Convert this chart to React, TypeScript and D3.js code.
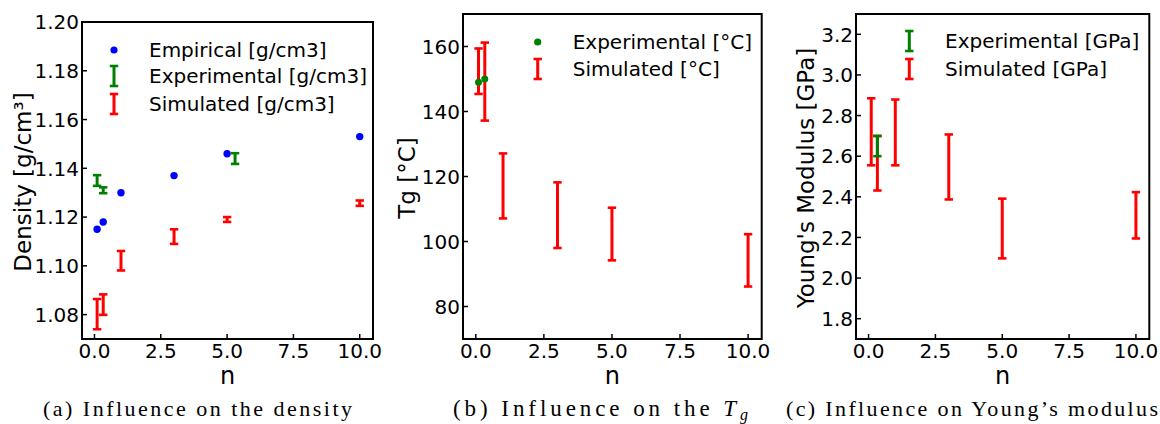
import React from 'react';
import * as d3 from 'd3';

// ---------- data ----------
const nValues = [0.1, 0.33, 1, 3, 5, 10];
const xTicks = [0, 2.5, 5, 7.5, 10];

const densityEmpirical = [1.115, 1.118, 1.13, 1.137, 1.146, 1.153];
const densityExpN = [0.1, 0.33, 5.3];
const densityExp = [1.135, 1.131, 1.144];
const densityExpErr = [0.0022, 0.0012, 0.0022];
const densitySim = [1.0802, 1.0841, 1.1021, 1.112, 1.119, 1.1257];
const densitySimErr = [0.0062, 0.0042, 0.004, 0.003, 0.001, 0.0011];
const densityTicks = [1.08, 1.1, 1.12, 1.14, 1.16, 1.18, 1.2];

const tgExpN = [0.1, 0.33];
const tgExp = [149, 150];
const tgSim = [152.4, 149.2, 117.1, 108.1, 102.3, 94.2];
const tgSimErr = [7, 12, 10, 10.1, 8.1, 8.05];
const tgTicks = [80, 100, 120, 140, 160];

const ymExpN = [0.33];
const ymExp = [2.65];
const ymExpErr = [0.05];
const ymSim = [2.72, 2.565, 2.717, 2.547, 2.244, 2.309];
const ymSimErr = [0.165, 0.134, 0.162, 0.16, 0.147, 0.114];
const ymTicks = [1.8, 2.0, 2.2, 2.4, 2.6, 2.8, 3.0, 3.2];

const BLUE = '#0000ff';
const GREEN = '#008000';
const RED = '#ff0000';
const FONT = '"DejaVu Sans", sans-serif';
const SERIF = '"Liberation Serif", "DejaVu Serif", serif';

type Err = { n: number[]; v: number[]; e: number[]; color: string };
type Dots = { n: number[]; v: number[]; color: string; r: number };
type LegendItem = { kind: 'dot' | 'err'; color: string; label: string; y: number };

function ErrorBar({ x, y0, y1, color }: { x: number; y0: number; y1: number; color: string }) {
  const cap = 4.2;
  return (
    <g>
      <line x1={x} x2={x} y1={y0} y2={y1} stroke={color} strokeWidth={3} />
      <line x1={x - cap} x2={x + cap} y1={y0} y2={y0} stroke={color} strokeWidth={2.6} />
      <line x1={x - cap} x2={x + cap} y1={y1} y2={y1} stroke={color} strokeWidth={2.6} />
    </g>
  );
}

function Panel(props: {
  left: number; right: number; top: number; bottom: number;
  yDomain: [number, number]; yTicks: number[]; yFmt: (v: number) => string;
  yLabel: React.ReactNode; yLabelX: number;
  errs: Err[]; dots: Dots[];
  legendMarkerX: number; legendTextX: number; legend: LegendItem[];
}) {
  const { left, right, top, bottom } = props;
  const x = d3.scaleLinear().domain([-0.47, 10.5]).range([left, right]);
  const y = d3.scaleLinear().domain(props.yDomain).range([bottom, top]);
  const xFmt = d3.format('.1f');
  const cy = (top + bottom) / 2;
  return (
    <g>
      {props.errs.map((s, si) =>
        s.n.map((n, i) => (
          <ErrorBar key={`e${si}-${i}`} x={x(n)} y0={y(s.v[i] + s.e[i])} y1={y(s.v[i] - s.e[i])} color={s.color} />
        ))
      )}
      {props.dots.map((s, si) =>
        s.n.map((n, i) => <circle key={`d${si}-${i}`} cx={x(n)} cy={y(s.v[i])} r={s.r} fill={s.color} />)
      )}
      <rect x={left} y={top} width={right - left} height={bottom - top} fill="none" stroke="#000" strokeWidth={2} />
      {props.yTicks.map((t) => (
        <g key={`yt${t}`}>
          <line x1={left} x2={left + 5} y1={y(t)} y2={y(t)} stroke="#000" strokeWidth={1.5} />
          <text x={left - 3} y={y(t)} dy="0.36em" textAnchor="end" fontSize={20} fontFamily={FONT}>
            {props.yFmt(t)}
          </text>
        </g>
      ))}
      {xTicks.map((t) => (
        <g key={`xt${t}`}>
          <line x1={x(t)} x2={x(t)} y1={bottom} y2={bottom - 5} stroke="#000" strokeWidth={1.5} />
          <text x={x(t)} y={bottom + 19} textAnchor="middle" fontSize={20} fontFamily={FONT}>
            {xFmt(t)}
          </text>
        </g>
      ))}
      <text x={(left + right) / 2} y={384} textAnchor="middle" fontSize={24} fontFamily={FONT}>n</text>
      <text
        transform={`translate(${props.yLabelX},${cy + 1.5}) rotate(-90)`}
        textAnchor="middle" fontSize={23} fontFamily={FONT}
      >
        {props.yLabel}
      </text>
      {props.legend.map((it, i) => (
        <g key={`lg${i}`}>
          {it.kind === 'dot' ? (
            <circle cx={props.legendMarkerX} cy={it.y} r={3.6} fill={it.color} />
          ) : (
            <ErrorBar x={props.legendMarkerX} y0={it.y - 10} y1={it.y + 10} color={it.color} />
          )}
          <text x={props.legendTextX} y={it.y} dy="0.36em" fontSize={20} fontFamily={FONT}>
            {it.label}
          </text>
        </g>
      ))}
    </g>
  );
}

export default function App() {
  return (
    <svg width={1160} height={424} style={{ position: 'absolute', left: 0, top: 0, background: '#fff' }}>
      <rect width={1160} height={424} fill="#fff" />
      <Panel
        left={82} right={373} top={22} bottom={339}
        yDomain={[1.07, 1.2]} yTicks={densityTicks} yFmt={d3.format('.2f')}
        yLabel={<>Density [g/cm³]</>} yLabelX={30.5}
        errs={[
          { n: densityExpN, v: densityExp, e: densityExpErr, color: GREEN },
          { n: nValues, v: densitySim, e: densitySimErr, color: RED },
        ]}
        dots={[{ n: nValues, v: densityEmpirical, color: BLUE, r: 3.7 }]}
        legendMarkerX={114} legendTextX={149}
        legend={[
          { kind: 'dot', color: BLUE, label: 'Empirical [g/cm3]', y: 50 },
          { kind: 'err', color: GREEN, label: 'Experimental [g/cm3]', y: 76 },
          { kind: 'err', color: RED, label: 'Simulated [g/cm3]', y: 104 },
        ]}
      />
      <Panel
        left={463} right={761.7} top={14} bottom={339}
        yDomain={[70, 170]} yTicks={tgTicks} yFmt={d3.format('d')}
        yLabel={<>Tg [°C]</>} yLabelX={415}
        errs={[{ n: nValues, v: tgSim, e: tgSimErr, color: RED }]}
        dots={[{ n: tgExpN, v: tgExp, color: GREEN, r: 3.5 }]}
        legendMarkerX={537.7} legendTextX={572.7}
        legend={[
          { kind: 'dot', color: GREEN, label: 'Experimental [°C]', y: 42 },
          { kind: 'err', color: RED, label: 'Simulated [°C]', y: 69 },
        ]}
      />
      <Panel
        left={856} right={1149.3} top={14} bottom={339}
        yDomain={[1.7, 3.3]} yTicks={ymTicks} yFmt={d3.format('.1f')}
        yLabel={<>Young's Modulus [GPa]</>} yLabelX={814}
        errs={[
          { n: nValues, v: ymSim, e: ymSimErr, color: RED },
          { n: ymExpN, v: ymExp, e: ymExpErr, color: GREEN },
        ]}
        dots={[]}
        legendMarkerX={909.3} legendTextX={945}
        legend={[
          { kind: 'err', color: GREEN, label: 'Experimental [GPa]', y: 41 },
          { kind: 'err', color: RED, label: 'Simulated [GPa]', y: 69 },
        ]}
      />
      <text x={43} y={416} fontSize={22} fontFamily={SERIF} textLength={309} lengthAdjust="spacing">
        (a) Influence on the density
      </text>
      <text x={453} y={416} fontSize={23} fontFamily={SERIF} textLength={295} lengthAdjust="spacing">
        (b) Influence on the <tspan fontStyle="italic">T</tspan>
        <tspan fontStyle="italic" fontSize={16} dy={4}>g</tspan>
      </text>
      <text x={786} y={416} fontSize={22} fontFamily={SERIF} textLength={372} lengthAdjust="spacing">
        (c) Influence on Young’s modulus
      </text>
    </svg>
  );
}
